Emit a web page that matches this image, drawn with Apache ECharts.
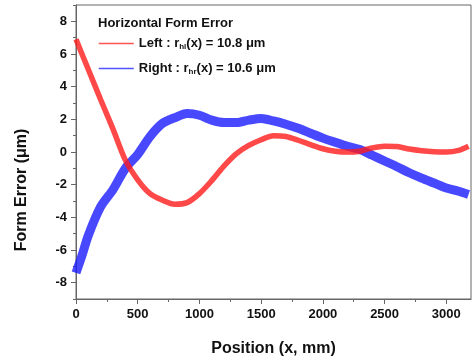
<!DOCTYPE html>
<html><head><meta charset="utf-8">
<script src="https://cdn.jsdelivr.net/npm/echarts@6/dist/echarts.min.js"></script>
<style>html,body{margin:0;padding:0;background:#fff}#c{width:473px;height:362px}</style>
</head><body><div id="c"></div>
<script>
// Data
var leftX  = [0,100,200,300,400,500,600,700,800,900,1000,1100,1200,1300,1400,1500,1600,1700,1800,1900,2000,2100,2200,2300,2400,2500,2600,2700,2800,2900,3000,3100,3180];
var leftY  = [6.9,5.05,3.2,1.4,-0.5,-1.7,-2.55,-2.95,-3.2,-3.1,-2.55,-1.75,-0.85,-0.1,0.4,0.75,1.0,0.95,0.72,0.45,0.2,0.05,0.0,0.05,0.25,0.35,0.33,0.18,0.08,0.02,0.0,0.1,0.35];
var rightX = [0,50,100,200,300,400,500,600,700,800,900,1000,1100,1200,1300,1400,1500,1600,1700,1800,1900,2000,2100,2200,2300,2400,2500,2600,2700,2800,2900,3000,3100,3180];
var rightY = [-7.4,-6.3,-5.1,-3.35,-2.3,-1.0,-0.15,0.95,1.75,2.1,2.35,2.25,1.95,1.8,1.8,1.95,2.05,1.9,1.7,1.45,1.15,0.85,0.6,0.35,0.15,-0.2,-0.55,-0.9,-1.27,-1.6,-1.9,-2.2,-2.4,-2.6];
var xLabels = [0,500,1000,1500,2000,2500,3000];
var xMinor  = [250,750,1250,1750,2250,2750];
var yLabels = [-8,-6,-4,-2,0,2,4,6,8];
var yMinor  = [-9,-7,-5,-3,-1,1,3,5,7,9];
var seriesNames = ['Left', 'Right'];

function pairs(xs, ys){ return xs.map(function(x,i){ return [x, ys[i]]; }); }

var axisCol = '#666';
var font = '"Liberation Sans", Arial, sans-serif';
var chart = echarts.init(document.getElementById('c'));
chart.setOption({
  animation: false,
  backgroundColor: '#fff',
  grid: { left: 76, top: 5, width: 395, height: 295, show: true, borderColor: axisCol, borderWidth: 1 },
  title: { text: 'Horizontal Form Error', left: 98, top: 17, padding: 0,
    textStyle: { fontFamily: font, fontWeight: 'bold', fontSize: 13, color: '#111' } },
  legend: {
    orient: 'vertical', left: 98, top: 36, padding: 0, itemWidth: 35, itemHeight: 16, itemGap: 10,
    lineStyle: { width: 1.5, opacity: 0.75 },
    itemStyle: { opacity: 0 },
    data: seriesNames,
    formatter: function(n){
      return n === 'Left' ? '{t|Left : r}{s|hl}{t|(x) = 10.8 \u03bcm}' : '{t|Right : r}{s|hr}{t|(x) = 10.6 \u03bcm}';
    },
    textStyle: { fontFamily: font, color: '#111',
      rich: { t: { fontFamily: font, fontWeight: 'bold', fontSize: 13, color: '#111', lineHeight: 16 },
              s: { fontFamily: font, fontWeight: 'bold', fontSize: 8, color: '#111', padding: [7,0,0,0], lineHeight: 16 } } }
  },
  xAxis: [{
    type: 'value', min: 0, max: 3200, interval: 250, position: 'bottom',
    axisLine: { show: true, onZero: false, lineStyle: { color: axisCol } },
    axisTick: { show: true, customValues: xLabels, length: 5, lineStyle: { color: axisCol } },
    axisLabel: { customValues: xLabels, margin: 9, formatter: function(v){ return String(v); },
      fontFamily: font, fontWeight: 'bold', fontSize: 13, color: '#111' },
    splitLine: { show: false },
    name: 'Position (x, mm)', nameLocation: 'middle', nameGap: 42,
    nameTextStyle: { fontFamily: font, fontWeight: 'bold', fontSize: 16, color: '#111' }
  }, {
    type: 'value', min: 0, max: 3200, interval: 250, position: 'bottom',
    axisLine: { show: false, onZero: false }, axisLabel: { show: false }, splitLine: { show: false },
    axisTick: { show: true, customValues: xMinor, length: 3, lineStyle: { color: axisCol } }
  }],
  yAxis: [{
    type: 'value', min: -9, max: 9, interval: 1, position: 'left',
    axisLine: { show: true, onZero: false, lineStyle: { color: axisCol } },
    axisTick: { show: true, customValues: yLabels, length: 5, lineStyle: { color: axisCol } },
    axisLabel: { customValues: yLabels, margin: 9, fontFamily: font, fontWeight: 'bold', fontSize: 13, color: '#111' },
    splitLine: { show: false }
  }, {
    type: 'value', min: -9, max: 9, interval: 1, position: 'left',
    axisLine: { show: false, onZero: false }, axisLabel: { show: false }, splitLine: { show: false },
    axisTick: { show: true, customValues: yMinor, length: 3, lineStyle: { color: axisCol } }
  }],
  graphic: [{
    type: 'text', x: 22, y: 190, rotation: Math.PI / 2,
    style: { text: 'Form Error (\u03bcm)', fontFamily: font, fontWeight: 'bold', fontSize: 16, fill: '#111',
      align: 'center', verticalAlign: 'middle' }
  }],
  series: [{
    name: 'Left', type: 'line', data: pairs(leftX, leftY), smooth: 0.3, symbol: 'none',
    color: '#ff0000', lineStyle: { width: 5.5, color: '#ff1a1a', opacity: 0.8 }, z: 3
  }, {
    name: 'Right', type: 'line', data: pairs(rightX, rightY), smooth: 0.3, symbol: 'none',
    color: '#0000ff', lineStyle: { width: 9, color: '#1a1aff', opacity: 0.8 }, z: 2
  }]
});
</script></body></html>
